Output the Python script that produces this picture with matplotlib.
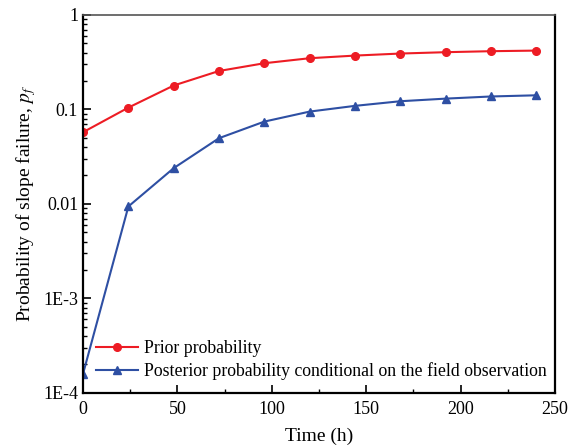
import matplotlib
matplotlib.use("Agg")
import matplotlib.pyplot as plt
from matplotlib.ticker import FixedLocator, FixedFormatter, LogLocator, MultipleLocator, NullFormatter

plt.rcParams['font.family'] = ['Liberation Serif', 'DejaVu Serif']
plt.rcParams['mathtext.fontset'] = 'stix'

time_h = [0, 24, 48, 72, 96, 120, 144, 168, 192, 216, 240]
prior = [0.0574, 0.1045, 0.179, 0.255, 0.308, 0.348, 0.371, 0.39, 0.403, 0.413, 0.419]
posterior = [1.6e-4, 0.0094, 0.0239, 0.0496, 0.0743, 0.0948, 0.109, 0.122, 0.130, 0.137, 0.141]

y_ticks = [1e-4, 1e-3, 1e-2, 1e-1, 1]
y_labels = ['1E-4', '1E-3', '0.01', '0.1', '1']
x_ticks = [0, 50, 100, 150, 200, 250]

label_prior = 'Prior probability'
label_post = 'Posterior probability conditional on the field observation'

fig = plt.figure(figsize=(5.73, 4.46), dpi=100)
ax = fig.add_axes([0.145, 0.119, 0.8236, 0.8476])

ax.plot(time_h, prior, color='#ED1C24', marker='o', markersize=5.5, lw=1.5, label=label_prior)
ax.plot(time_h, posterior, color='#2E4FA3', marker='^', markersize=6, lw=1.5, label=label_post)

ax.set_yscale('log')
ax.set_ylim(1e-4, 1)
ax.set_xlim(0, 250)
ax.yaxis.set_major_locator(FixedLocator(y_ticks))
ax.yaxis.set_major_formatter(FixedFormatter(y_labels))
ax.yaxis.set_minor_locator(LogLocator(base=10, subs=range(2, 10)))
ax.yaxis.set_minor_formatter(NullFormatter())
ax.xaxis.set_major_locator(FixedLocator(x_ticks))
ax.xaxis.set_minor_locator(MultipleLocator(25))

ax.tick_params(axis='both', which='major', direction='in', length=6, width=1.2, labelsize=13, top=False, right=False)
ax.tick_params(axis='both', which='minor', direction='in', length=3, width=1.0, top=False, right=False)
ax.tick_params(axis='x', pad=6)

for s in ['left', 'bottom', 'right']:
    ax.spines[s].set_linewidth(1.6)
ax.spines['top'].set_linewidth(1.2)
ax.spines['top'].set_color('#555555')

ax.set_xlabel('Time (h)', fontsize=14, labelpad=7)
ax.set_ylabel('Probability of slope failure, $p_f$', fontsize=14, labelpad=4)

ax.legend(loc='lower left', frameon=False, fontsize=12.8, handlelength=2.4, borderaxespad=0.3, labelspacing=0.3, handletextpad=0.35)

fig.savefig('out.png', dpi=100)
